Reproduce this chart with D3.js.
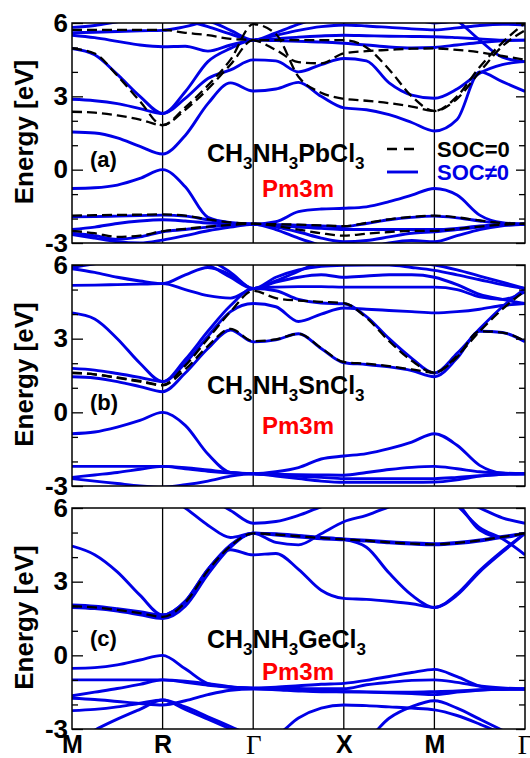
<!DOCTYPE html>
<html>
<head>
<meta charset="utf-8">
<script src="https://cdnjs.cloudflare.com/ajax/libs/d3/7.8.5/d3.min.js"></script>
<style>
  body { margin: 0; background: #fff; }
  svg text { font-family: "Liberation Sans", Arial, sans-serif; font-weight: bold; }
</style>
</head>
<body>
<div id="chart"></div>
<script>
// k-path, all segments drawn with equal length
var kLabels = ["M", "R", "\u0393", "X", "M", "\u0393"];
var kGrid = [0, 0.25, 0.5, 0.75, 1, 1.25, 1.5, 1.75, 2, 2.25, 2.5, 2.75, 3, 3.25, 3.5, 3.75, 4, 4.25, 4.5, 4.75, 5];
var yMajor = [-3, 0, 3, 6];
var yMinor = [-2, -1, 1, 2, 4, 5];

// (a) CH3NH3PbCl3, energies in eV read at each kGrid point
var pbSoc = [
  [1.54,1.5,1.3,0.95,0.64, 1.4,2.7,3.55,3.22, 3.3,3.57,3.0,2.53, 2.45,2.25,1.93,1.58, 2.05,4.0,3.6,3.2],
  [2.88,2.82,2.7,2.5,2.3, 2.92,3.73,4.08,4.49, 4.45,4.0,4.3,4.55, 4.45,3.55,3.05,2.92, 3.3,3.95,4.3,4.42],
  [4.96,4.7,3.9,3.0,2.3, 3.19,4.42,4.96,5.3, 5.28,5.25,5.22,5.17, 5.1,5.02,4.98,5.0, 5.1,5.2,5.27,5.3],
  [5.5,5.4,5.25,5.1,5.03, 5.05,4.85,5.1,5.3, 5.35,5.42,5.47,5.5, 5.48,5.46,5.45,5.44, 5.4,5.35,5.3,5.3],
  [5.6,5.62,5.65,5.68,5.7, 5.85,6.05,5.7,5.3, 5.5,5.7,5.85,5.92, 5.88,5.82,5.76,5.72, 5.8,5.9,5.95,5.92],
  [5.82,5.9,6.05,6.2,6.3, 6.1,5.85,5.55,5.3, 5.6,5.95,6.25,6.45, 6.5,6.4,6.2,6.0, 6.1,6.25,6.3,6.3],
  [6.6,6.6,6.6,6.6,6.6, 6.6,6.6,6.6,6.6, 6.6,6.6,6.6,6.6, 6.6,6.6,6.6,6.6, 6.1,5.3,4.6,4.42],
  [-0.77,-0.74,-0.63,-0.36,0, -0.7,-1.95,-2.17,-2.23, -2.13,-1.72,-1.61,-1.58, -1.52,-1.31,-1.04,-0.77, -1.04,-1.86,-2.17,-2.23],
  [-1.93,-1.92,-1.9,-1.88,-1.86, -1.9,-2.05,-2.18,-2.23, -2.25,-2.27,-2.3,-2.33, -2.2,-2.05,-1.95,-1.9, -1.97,-2.1,-2.2,-2.23],
  [-2.45,-2.35,-2.2,-2.1,-2.05, -2.1,-2.18,-2.22,-2.23, -2.28,-2.35,-2.4,-2.45, -2.45,-2.45,-2.45,-2.45, -2.4,-2.3,-2.25,-2.23],
  [-2.6,-2.7,-2.85,-2.75,-2.54, -2.45,-2.35,-2.28,-2.23, -2.35,-2.55,-2.8,-2.95, -2.9,-2.75,-2.6,-2.54, -2.45,-2.35,-2.27,-2.23],
  [-2.65,-2.8,-2.95,-3.0,-2.88, -2.7,-2.5,-2.35,-2.23, -2.45,-2.8,-3.1,-3.3, -3.2,-3.0,-2.9,-2.95, -2.7,-2.45,-2.3,-2.23]
];
var pbNoSoc = [
  [2.37,2.33,2.22,2.05,1.82, 2.55,3.45,4.5,5.95, 5.55,3.8,3.15,2.9, 2.82,2.72,2.58,2.4, 3.0,4.2,5.2,6.0],
  [4.96,4.75,3.85,2.8,1.82, 2.45,3.3,4.3,5.3, 5.3,5.3,5.3,5.3, 5.0,4.1,3.0,2.4, 2.9,4.0,5.05,5.7],
  [5.72,5.72,5.72,5.72,5.72, 5.6,5.5,5.35,5.3, 4.9,4.4,4.35,4.76, 4.85,4.9,4.95,4.96, 4.9,4.8,4.65,4.5],
  [-1.88,-1.86,-1.85,-1.84,-1.83, -1.88,-2.03,-2.16,-2.21, -2.23,-2.25,-2.28,-2.31, -2.18,-2.03,-1.93,-1.88, -1.95,-2.08,-2.18,-2.21],
  [-2.5,-2.6,-2.75,-2.7,-2.52, -2.42,-2.33,-2.26,-2.21, -2.3,-2.45,-2.6,-2.7, -2.62,-2.55,-2.5,-2.5, -2.42,-2.33,-2.25,-2.21]
];

// (b) CH3NH3SnCl3
var snSoc = [
  [1.45,1.4,1.25,1.05,0.84, 1.6,2.6,3.35,2.87, 2.95,3.2,2.6,2.02, 1.95,1.85,1.7,1.45, 2.2,3.3,3.25,2.87],
  [1.79,1.72,1.58,1.42,1.25, 2.0,3.1,4.1,4.43, 4.3,3.7,4.0,4.25, 4.2,4.15,4.1,4.05, 4.1,4.2,4.35,4.43],
  [4.05,3.8,3.0,2.0,1.25, 2.15,3.3,4.35,5.04, 4.95,4.6,4.45,4.42, 3.9,3.0,2.2,1.6, 2.4,3.4,4.3,5.04],
  [5.17,5.18,5.2,5.22,5.24, 5.0,4.75,4.65,5.04, 5.1,5.12,5.12,5.1, 5.1,5.1,5.1,5.1, 5.0,4.7,4.6,4.9],
  [5.85,5.7,5.5,5.35,5.24, 5.6,5.9,5.6,5.04, 5.3,5.5,5.6,5.5, 5.55,5.6,5.6,5.5, 5.2,4.8,4.6,4.43],
  [5.9,6.05,6.2,6.3,6.3, 6.3,6.2,5.7,5.04, 5.5,5.8,5.95,5.99, 6.0,6.0,5.9,5.78, 5.6,5.4,5.2,5.04],
  [6.4,6.4,6.4,6.4,6.4, 6.2,6.0,5.5,5.04, 5.35,5.75,6.15,6.4, 6.4,6.3,6.1,6.0, 5.8,5.55,5.3,5.04],
  [-0.87,-0.8,-0.6,-0.33,0.0, -0.53,-1.7,-2.45,-2.5, -2.42,-2.25,-1.9,-1.78, -1.68,-1.48,-1.21,-0.87, -1.34,-2.16,-2.47,-2.5],
  [-2.2,-2.2,-2.2,-2.2,-2.2, -2.25,-2.35,-2.45,-2.5, -2.52,-2.54,-2.55,-2.56, -2.45,-2.33,-2.24,-2.2, -2.3,-2.42,-2.48,-2.5],
  [-2.65,-2.55,-2.45,-2.32,-2.2, -2.3,-2.4,-2.47,-2.5, -2.55,-2.6,-2.65,-2.7, -2.7,-2.7,-2.7,-2.7, -2.65,-2.58,-2.52,-2.5],
  [-2.7,-2.8,-2.9,-3.0,-3.05, -2.95,-2.8,-2.6,-2.5, -2.6,-2.7,-2.8,-2.85, -2.85,-2.85,-2.85,-2.84, -2.75,-2.6,-2.52,-2.5]
];
var snNoSoc = [
  [1.62,1.55,1.42,1.28,1.12, 1.9,3.0,4.1,4.95, 4.65,4.55,4.5,4.45, 3.85,2.9,2.1,1.62, 2.3,3.3,4.2,4.95],
  [1.6,1.55,1.4,1.25,1.1, 1.75,2.7,3.4,2.9, 2.97,3.2,2.62,2.05, 1.98,1.88,1.75,1.62, 2.25,3.3,3.25,2.9]
];

// (c) CH3NH3GeCl3
var geSoc = [
  [2.05,2.0,1.9,1.78,1.64, 2.2,3.5,4.5,4.97, 4.9,4.82,4.75,4.7, 4.65,4.58,4.53,4.5, 4.55,4.65,4.8,4.97],
  [1.95,1.9,1.8,1.65,1.5, 2.0,3.3,4.4,4.97, 4.93,4.86,4.79,4.74, 4.69,4.63,4.58,4.55, 4.6,4.7,4.84,4.97],
  [4.45,4.1,3.4,2.45,1.64, 2.2,3.5,4.3,4.09, 4.15,3.5,2.65,2.32, 2.28,2.2,2.1,1.95, 2.5,3.45,4.25,4.97],
  [6.6,6.6,6.6,6.6,6.6, 6.0,5.3,4.8,4.97, 4.6,4.5,4.95,5.44, 5.7,6.05,6.4,6.6, 6.2,5.1,4.8,4.97],
  [2.0,1.95,1.85,1.72,1.57, 2.15,3.45,4.45,4.97, 4.95,4.88,4.8,4.72, 4.4,3.35,2.45,1.95, 2.45,3.4,4.2,4.97],
  [6.6,6.6,6.6,6.6,6.6, 6.6,6.4,5.9,5.38, 5.45,5.7,6.05,6.3, 6.5,6.6,6.6,6.6, 6.4,6.0,5.6,5.38],
  [6.8,6.8,6.8,6.8,6.8, 6.8,6.8,6.8,6.8, 6.8,6.8,6.8,6.8, 6.8,6.8,6.8,6.8, 6.1,5.2,4.75,4.09],
  [-0.53,-0.5,-0.39,-0.19,0.0, -0.55,-1.15,-1.3,-1.34, -1.3,-1.24,-1.18,-1.14, -1.02,-0.86,-0.7,-0.57, -0.87,-1.25,-1.38,-1.37],
  [-1.0,-1.0,-1.0,-1.0,-1.0, -1.05,-1.15,-1.28,-1.34, -1.34,-1.35,-1.36,-1.36, -1.2,-1.1,-1.02,-1.0, -1.1,-1.25,-1.33,-1.37],
  [-1.65,-1.5,-1.35,-1.18,-1.0, -1.1,-1.22,-1.3,-1.34, -1.38,-1.42,-1.46,-1.48, -1.5,-1.53,-1.56,-1.6, -1.5,-1.42,-1.38,-1.37],
  [-1.75,-1.8,-1.88,-1.96,-2.02, -1.85,-1.6,-1.42,-1.37, -1.4,-1.45,-1.48,-1.48, -1.49,-1.5,-1.5,-1.48, -1.45,-1.4,-1.38,-1.37],
  [-2.25,-2.2,-2.1,-1.95,-1.82, -2.2,-2.6,-3.0,-3.4, -3.25,-2.55,-2.15,-2.02, -2.05,-2.1,-2.15,-2.22, -2.45,-2.8,-3.2,-3.6],
  [-3.6,-3.05,-2.6,-2.2,-1.82, -2.1,-2.5,-2.9,-3.3, -3.6,-3.6,-3.6,-3.6, -3.4,-2.56,-2.09,-1.85, -2.15,-2.6,-3.05,-3.5]
];
var geNoSoc = [
  [2.0,1.95,1.85,1.72,1.57, 2.15,3.45,4.45,4.97, 4.92,4.85,4.78,4.72, 4.67,4.6,4.55,4.52, 4.58,4.68,4.82,4.97]
];

var panelTags = ["(a)", "(b)", "(c)"];
var panelFormulas = [
  ["CH", "3", "NH", "3", "PbCl", "3"],
  ["CH", "3", "NH", "3", "SnCl", "3"],
  ["CH", "3", "NH", "3", "GeCl", "3"]
];
var spaceGroup = "Pm3m";
var legendLabels = ["SOC=0", "SOC\u22600"];

var socSets = [pbSoc, snSoc, geSoc];
var noSocSets = [pbNoSoc, snNoSoc, geNoSoc];

// layout
var W = 530, H = 758;
var plotLeft = 72, plotRight = 525;
var panelBox = [[23, 243], [265, 486], [508, 729]];
var tagY = [144, 145, 138], formulaY = [139, 129, 140], groupY = [174, 169, 172];
var blue = "#0000e6";

var svg = d3.select("#chart").append("svg")
    .attr("width", W)
    .attr("height", H);

var xscale = d3.scaleLinear().domain([0, 5]).range([plotLeft, plotRight]);

panelBox.forEach(function (box, i) { drawPanel(i, box[0], box[1]); });

function drawPanel(i, top, bottom) {
  var yscale = d3.scaleLinear().domain([-3, 6]).range([bottom, top]);
  var g = svg.append("g");

  g.append("clipPath").attr("id", "clip" + i)
    .append("rect")
      .attr("x", plotLeft).attr("y", top)
      .attr("width", plotRight - plotLeft).attr("height", bottom - top);

  // high symmetry lines
  g.selectAll(".kline").data([1, 2, 3, 4]).enter().append("line")
      .attr("x1", function (d) { return xscale(d); })
      .attr("x2", function (d) { return xscale(d); })
      .attr("y1", top).attr("y2", bottom)
      .attr("stroke", "#000").attr("stroke-width", 1.3);

  var line = d3.line()
      .x(function (d, j) { return xscale(kGrid[j]); })
      .y(function (d) { return yscale(d); })
      .curve(d3.curveMonotoneX);

  var bands = g.append("g").attr("clip-path", "url(#clip" + i + ")");
  bands.selectAll(".soc").data(socSets[i]).enter().append("path")
      .attr("d", line)
      .attr("fill", "none")
      .attr("stroke", blue)
      .attr("stroke-width", 2.9);
  bands.selectAll(".nosoc").data(noSocSets[i]).enter().append("path")
      .attr("d", line)
      .attr("fill", "none")
      .attr("stroke", "#000")
      .attr("stroke-width", 2.3)
      .attr("stroke-dasharray", "10,5");

  // frame
  g.append("rect")
      .attr("x", plotLeft).attr("y", top)
      .attr("width", plotRight - plotLeft).attr("height", bottom - top)
      .attr("fill", "none").attr("stroke", "#000").attr("stroke-width", 1.5);

  // y axes: major labelled ticks, minor ticks, mirrored on the right
  var left = g.append("g").attr("transform", "translate(" + plotLeft + ",0)")
      .call(d3.axisLeft(yscale).tickValues(yMajor).tickSize(-11).tickPadding(4)
        .tickFormat(function (d) { return String(d); }));
  left.select(".domain").remove();
  left.selectAll("text").attr("font-size", 26).attr("fill", "#000");
  var leftMinor = g.append("g").attr("transform", "translate(" + plotLeft + ",0)")
      .call(d3.axisLeft(yscale).tickValues(yMinor).tickSize(-6).tickFormat(""));
  leftMinor.select(".domain").remove();
  var right = g.append("g").attr("transform", "translate(" + plotRight + ",0)")
      .call(d3.axisRight(yscale).tickValues(yMajor).tickSize(-9).tickFormat(""));
  right.select(".domain").remove();
  var rightMinor = g.append("g").attr("transform", "translate(" + plotRight + ",0)")
      .call(d3.axisRight(yscale).tickValues(yMinor).tickSize(-6).tickFormat(""));
  rightMinor.select(".domain").remove();
  g.selectAll(".tick line").attr("stroke-width", 1.3);

  g.append("text")
      .attr("transform", "translate(33," + ((top + bottom) / 2 - 1) + ") rotate(-90)")
      .attr("text-anchor", "middle")
      .attr("font-size", 26)
      .text("Energy [eV]");

  g.append("text").attr("x", 90).attr("y", top + tagY[i])
      .attr("font-size", 22).text(panelTags[i]);

  // formula with subscripts
  var f = g.append("text").attr("x", 207).attr("y", top + formulaY[i]).attr("font-size", 25);
  var shifted = false;
  panelFormulas[i].forEach(function (p) {
    var sub = /^\d$/.test(p);
    var ts = f.append("tspan").text(p);
    if (sub) { ts.attr("dy", 7).attr("font-size", 17); shifted = true; }
    else if (shifted) { ts.attr("dy", -7); shifted = false; }
  });

  g.append("text").attr("x", 298).attr("y", top + groupY[i])
      .attr("text-anchor", "middle").attr("font-size", 24)
      .attr("fill", "#ff0000").text(spaceGroup);

  if (i === 0) {
    var leg = g.append("g");
    leg.append("line").attr("x1", 387).attr("x2", 418)
        .attr("y1", top + 126).attr("y2", top + 126)
        .attr("stroke", "#000").attr("stroke-width", 2.3).attr("stroke-dasharray", "10,7");
    leg.append("line").attr("x1", 387).attr("x2", 418)
        .attr("y1", top + 149).attr("y2", top + 149)
        .attr("stroke", blue).attr("stroke-width", 2.9);
    leg.append("text").attr("x", 437).attr("y", top + 134)
        .attr("font-size", 22).text(legendLabels[0]);
    leg.append("text").attr("x", 437).attr("y", top + 157)
        .attr("font-size", 22).attr("fill", blue).text(legendLabels[1]);
  }

  if (i === 2) {
    var bx = g.append("g").attr("transform", "translate(0," + bottom + ")")
        .call(d3.axisBottom(xscale).tickValues([0, 1, 2, 3, 4, 5]).tickSize(0).tickPadding(6)
          .tickFormat(function (d, j) { return kLabels[j]; }));
    bx.select(".domain").remove();
    bx.selectAll("text").attr("font-size", 25).attr("fill", "#000");
    // Gamma is set in a serif face, like the original
    bx.selectAll("text").filter(function (d, j) { return kLabels[j] === "\u0393"; })
        .style("font-family", "'Liberation Serif', 'Times New Roman', serif")
        .style("font-weight", "normal")
        .attr("font-size", 27);
  }
}
</script>
</body>
</html>
